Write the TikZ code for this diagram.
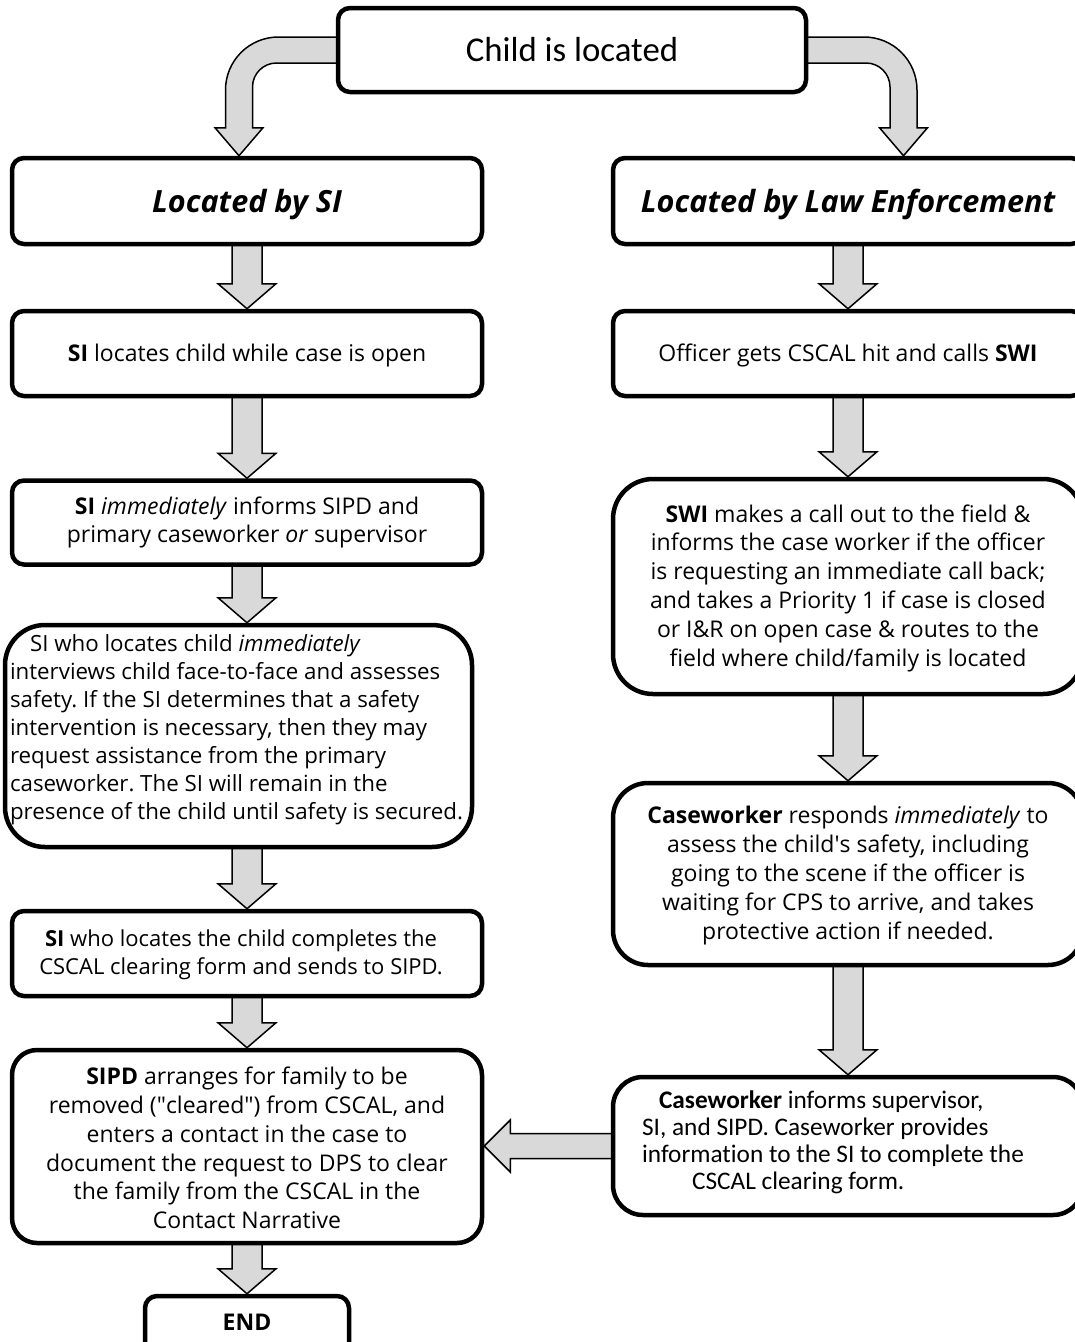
\documentclass[tikz,border=0pt]{standalone}
\usepackage{fontspec}
\setmainfont{Open Sans}
\newfontfamily\calfont[Ligatures={NoCommon}]{Carlito}
\usetikzlibrary{calc,backgrounds}
\definecolor{arrowgray}{HTML}{D9D9D9}
\frenchspacing
\newcommand{\darrow}[2]{\draw[barrow] ($(#1)+(-15,-6)$) -- ($(#2)+(-15,-25)$) -- ($(#2)+(-29,-25)$) -- (#2) -- ($(#2)+(29,-25)$) -- ($(#2)+(15,-25)$) -- ($(#1)+(15,-6)$) -- cycle;}
\begin{document}
\begin{tikzpicture}[x=1pt,y=-1pt,
  box/.style={draw, line width=4.5pt, rounded corners=12pt, fill=white, align=center, inner sep=0pt,
    font=\fontsize{23}{28.8}\selectfont},
  txt/.style={align=center, inner sep=0pt, font=\fontsize{23}{28.8}\selectfont},
  headtxt/.style={inner sep=0pt, anchor=base, font=\fontsize{30.6}{36}\selectfont\bfseries\itshape},
  barrow/.style={draw=black, line width=1.5pt, fill=arrowgray, line join=miter}]
\useasboundingbox (0,0) rectangle (1075,1342);
% top
\node[box, minimum width=468, minimum height=84, font=\calfont\fontsize{34.8}{40}\selectfont] (top) at (572,50) {Child is located};
% left column
\node[box, minimum width=470, minimum height=86] (L1) at (247,201) {};
\node[headtxt] (L1t) at (247,212) {Located by SI};
\node[box, minimum width=470, minimum height=85] (L2) at (247,353.5) {};
\node[txt, anchor=base] (L2t) at (247,361) {\textbf{SI} locates child while case is open};
\node[box, minimum width=470, minimum height=84] (L3) at (247,522.5) {\textbf{SI} \textit{immediately} informs SIPD and\\primary caseworker \textit{or} supervisor};
\node[box, minimum width=467, minimum height=222, rounded corners=40pt] (L4) at (238.5,736) {};
\node[txt, align=left, font=\fontsize{22.3}{28}\selectfont] (L4t) at (236.5,730) {\hspace*{20pt}SI who locates child \textit{immediately}\\interviews child face-to-face and assesses\\safety. If the SI determines that a safety\\intervention is necessary, then they may\\request assistance from the primary\\caseworker. The SI will remain in the\\presence of the child until safety is secured.};
\node[box, minimum width=470, minimum height=85] (L5) at (247,953.5) {};
\node[txt, font=\fontsize{22}{28}\selectfont] (L5t) at (241,954.5) {\textbf{SI} who locates the child completes the\\CSCAL clearing form and sends to SIPD.};
\node[box, minimum width=470, minimum height=193, rounded corners=25pt] (L6) at (247,1146.5) {};
\node[txt] (L6t) at (247,1148) {\textbf{SIPD} arranges for family to be\\removed (\textquotedbl cleared\textquotedbl) from CSCAL, and\\enters a contact in the case to\\document the request to DPS to clear\\the family from the CSCAL in the\\Contact Narrative};
\node[box, minimum width=204, minimum height=60] (END) at (247,1326) {};
\node[txt, font=\fontsize{23}{28.8}\selectfont\bfseries] (ENDt) at (247,1322) {END};
% right column
\node[box, minimum width=470, minimum height=86] (R1) at (848,201) {};
\node[headtxt] (R1t) at (848,212) {Located by Law Enforcement};
\node[box, minimum width=470, minimum height=85] (R2) at (848,353.5) {};
\node[txt, anchor=base] (R2t) at (848,361) {Officer gets CSCAL hit and calls \textbf{SWI}};
\node[box, minimum width=470, minimum height=215, rounded corners=40pt] (R3) at (848,586.5) {};
\node[txt] (R3t) at (848,588) {\textbf{SWI} makes a call out to the field \&\\informs the case worker if the officer\\is requesting an immediate call back;\\and takes a Priority 1 if case is closed\\or I\&R on open case \& routes to the\\field where child/family is located};
\node[box, minimum width=470, minimum height=182, rounded corners=35pt] (R4) at (848,874) {};
\node[txt] (R4t) at (848,875.5) {\textbf{Caseworker} responds \textit{immediately} to\\assess the child\textquotesingle s safety, including\\going to the scene if the officer is\\waiting for CPS to arrive, and takes\\protective action if needed.};
\node[box, minimum width=470, minimum height=138, rounded corners=30pt] (R5) at (848,1146) {};
\node[txt, align=left, font=\calfont\fontsize{25.3}{27}\selectfont] (R5t) at (833,1142) {\hspace*{17pt}\textbf{Caseworker} informs supervisor,\\SI, and SIPD. Caseworker provides\\information to the SI to complete the\\\hspace*{50pt}CSCAL clearing form.};
% arrows
\begin{scope}[on background layer]
\darrow{L1.south}{L2.north}
\darrow{L2.south}{L3.north}
\darrow{L3.south}{L4.north -| L3.south}
\darrow{L4.south -| L5.north}{L5.north}
\darrow{L5.south}{L6.north}
\darrow{L6.south}{END.north}
\darrow{R1.south}{R2.north}
\darrow{R2.south}{R3.north}
\darrow{R3.south}{R4.north}
\darrow{R4.south}{R5.north}
% left block arrow
\coordinate (lt) at (L6.east |- R5.west);
\draw[barrow] ($(R5.west)+(6,-12.5)$) -- ($(lt)+(26,-12.5)$) -- ($(lt)+(26,-26)$) -- (lt) -- ($(lt)+(26,26)$) -- ($(lt)+(26,12.5)$) -- ($(R5.west)+(6,12.5)$) -- cycle;
% curved arrows
\coordinate (ct) at ($(L1.north)+(-8,0)$);
\coordinate (co) at ($(ct)+(-13.5,0)$);
\coordinate (ci) at ($(ct)+(13.5,0)$);
\coordinate (cbt) at ($(top.west)+(6,-13)$);
\coordinate (cbb) at ($(top.west)+(6,13)$);
\draw[barrow] (cbt) -- ($(co |- cbt)+(53,0)$) .. controls +(-29.3,0) and +(0,-29.3) .. ($(co |- cbt)+(0,53)$)
  -- ($(co)+(0,-28)$) -- ($(ct)+(-24,-28)$) -- (ct) -- ($(ct)+(24,-28)$) -- ($(ci)+(0,-28)$)
  -- ($(ci |- cbb)+(0,24)$) .. controls +(0,-13.25) and +(-13.25,0) .. ($(ci |- cbb)+(24,0)$) -- (cbb) -- cycle;
\coordinate (dt) at ($(R1.north)+(55.5,0)$);
\coordinate (do) at ($(dt)+(13.5,0)$);
\coordinate (di) at ($(dt)+(-13.5,0)$);
\coordinate (dbt) at ($(top.east)+(-6,-13)$);
\coordinate (dbb) at ($(top.east)+(-6,13)$);
\draw[barrow] (dbt) -- ($(do |- dbt)+(-53,0)$) .. controls +(29.3,0) and +(0,-29.3) .. ($(do |- dbt)+(0,53)$)
  -- ($(do)+(0,-28)$) -- ($(dt)+(24,-28)$) -- (dt) -- ($(dt)+(-24,-28)$) -- ($(di)+(0,-28)$)
  -- ($(di |- dbb)+(0,24)$) .. controls +(0,-13.25) and +(13.25,0) .. ($(di |- dbb)+(-24,0)$) -- (dbb) -- cycle;
\end{scope}
\end{tikzpicture}
\end{document}
